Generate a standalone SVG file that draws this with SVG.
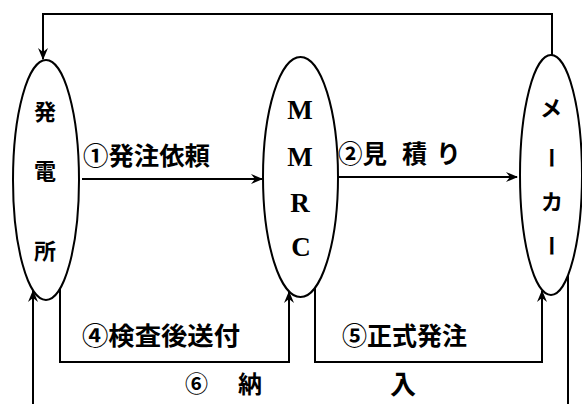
<svg xmlns="http://www.w3.org/2000/svg" width="582" height="404" viewBox="0 0 582 404">
<style>
.node{fill:#fff;stroke:#000;stroke-width:2}
.conn{fill:none;stroke:#000;stroke-width:2}
.jp{font-family:"Noto Sans CJK JP","Noto Sans CJK SC",sans-serif;font-weight:bold;fill:#000}
.lbl{font-size:25px}
.nd{font-size:22px;text-anchor:middle}
.ser{font-family:"Liberation Serif",serif;font-weight:bold;font-size:27px;text-anchor:middle;fill:#000}
.vt{writing-mode:vertical-rl;text-anchor:middle}
</style>
<defs>
<marker id="ah" viewBox="0 0 12 10" refX="11" refY="5" markerWidth="12" markerHeight="10" markerUnits="userSpaceOnUse" orient="auto">
<path d="M0,0 L12,5 L0,10 L4,5 z" fill="#000"/>
</marker>
</defs>
<rect width="582" height="404" fill="#fff"/>
<g id="connectors">
<path class="conn" d="M552,55 V14 H43 V59" marker-end="url(#ah)"/>
<path class="conn" d="M82,179 H262" marker-end="url(#ah)"/>
<path class="conn" d="M338,177 H517" marker-end="url(#ah)"/>
<path class="conn" d="M60,288 V362 H289 V292" marker-end="url(#ah)"/>
<path class="conn" d="M315,287 V362 H542 V291" marker-end="url(#ah)"/>
<path class="conn" d="M568,275 V412 H33 V291" marker-end="url(#ah)"/>
</g>
<g id="node-hatsudensho">
<ellipse class="node" cx="46" cy="180" rx="33" ry="120"/>
<text class="jp nd" x="45" y="120">発</text>
<text class="jp nd" x="45" y="179">電</text>
<text class="jp nd" x="45" y="259">所</text>
</g>
<g id="node-mmrc">
<ellipse class="node" cx="300.5" cy="177" rx="37.5" ry="120"/>
<text class="ser" x="300" y="119">M</text>
<text class="ser" x="300" y="166">M</text>
<text class="ser" x="300" y="212">R</text>
<text class="ser" x="301" y="256">C</text>
</g>
<g id="node-maker">
<ellipse class="node" cx="551" cy="175" rx="31" ry="120"/>
<text class="jp nd" x="551" y="116">メ</text>
<text class="jp nd vt" x="552" y="158">ー</text>
<text class="jp nd" x="552" y="210">カ</text>
<text class="jp nd vt" x="552" y="246">ー</text>
</g>
<g id="labels">
<text class="jp lbl" x="83" y="165" textLength="127" lengthAdjust="spacingAndGlyphs">①発注依頼</text>
<text class="jp lbl" x="338" y="163" textLength="49" lengthAdjust="spacingAndGlyphs">②見</text>
<text class="jp lbl" x="402" y="163">積</text>
<text class="jp lbl" x="436" y="163">り</text>
<text class="jp lbl" x="82" y="345" textLength="158" lengthAdjust="spacingAndGlyphs">④検査後送付</text>
<text class="jp lbl" x="342" y="345" textLength="125" lengthAdjust="spacingAndGlyphs">⑤正式発注</text>
<text class="jp" font-size="23" x="185" y="392">⑥</text>
<text class="jp" font-size="24" x="238" y="393">納</text>
<text class="jp" font-size="26" x="390" y="394">入</text>
</g>
</svg>
